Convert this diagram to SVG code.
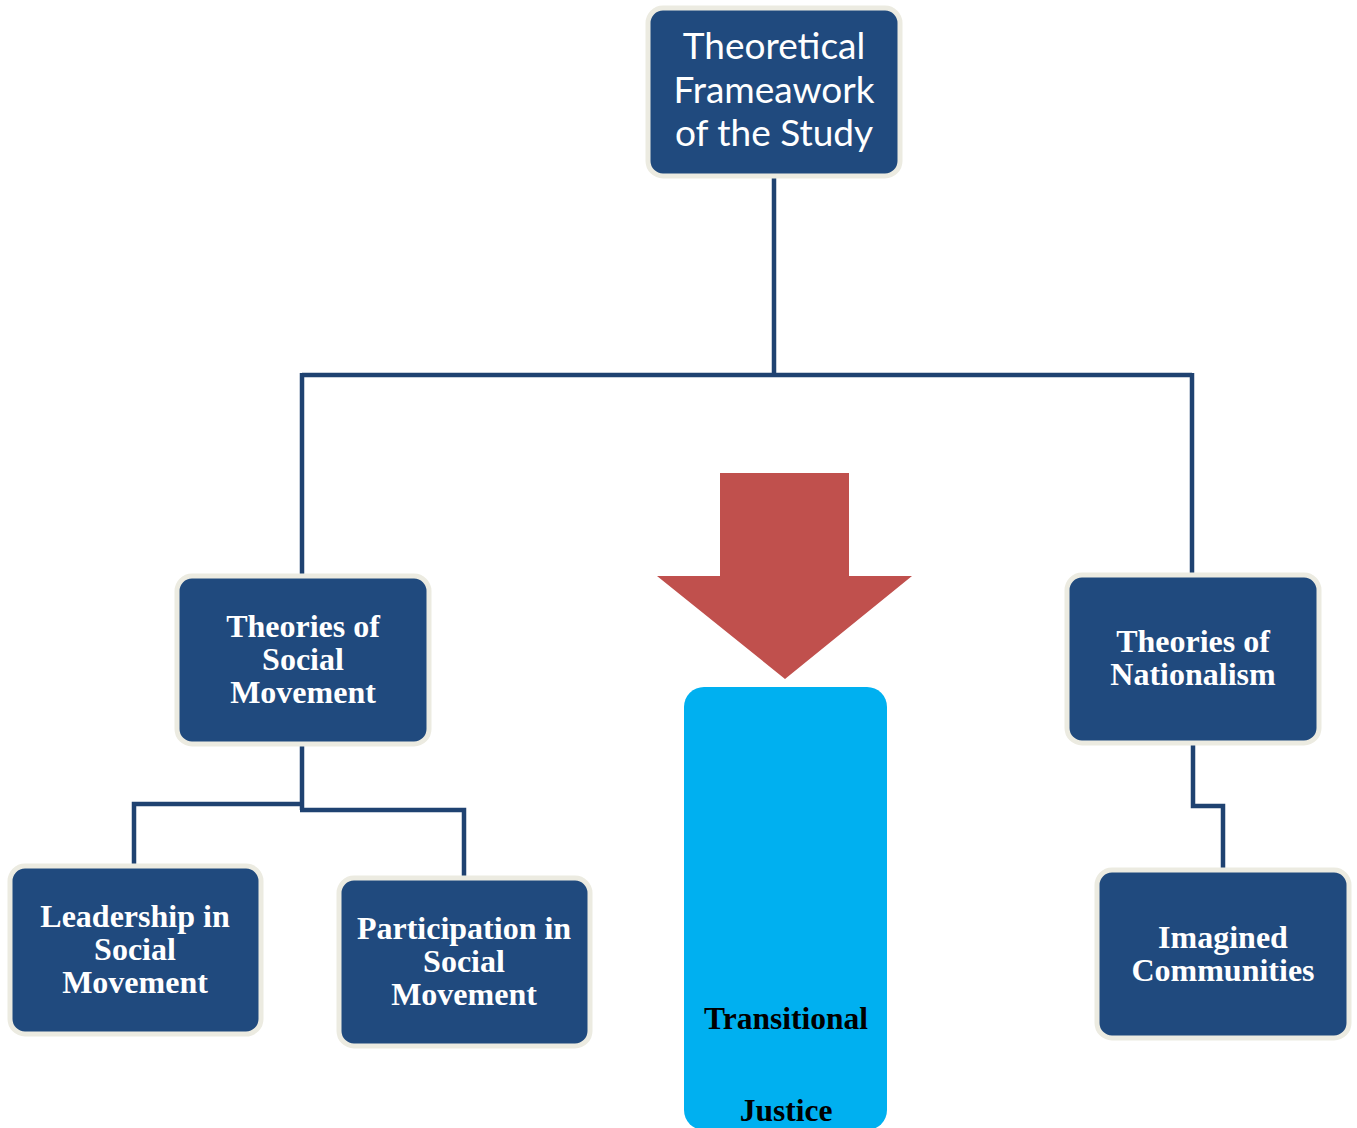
<svg xmlns="http://www.w3.org/2000/svg" width="1357" height="1128" viewBox="0 0 1357 1128">
<style>
.box{fill:#204A7E;stroke:#ECEBE1;stroke-width:5}
.conn{fill:none;stroke:#1F4271;stroke-width:4.5;stroke-linejoin:miter}
.t{font-family:"Liberation Serif","Times New Roman",serif;font-weight:bold;font-size:32px;fill:#FFFFFF;text-anchor:middle}
.top{font-family:Lato,"Open Sans",sans-serif;font-size:37px;fill:#FFFFFF;text-anchor:middle}
.tj{font-family:"Liberation Serif","Times New Roman",serif;font-weight:bold;font-size:31.5px;fill:#000000;text-anchor:middle}
</style>
<rect width="1357" height="1128" fill="#FFFFFF"/>
<g id="connectors">
<path class="conn" d="M774,177 V375 M302,375 H1192 M302,373 V576 M1192,373 V573"/>
<path class="conn" d="M302,745 V810 M304,804 H134 V864 M300,810 H464 V877"/>
<path class="conn" d="M1193,744 V806 H1223 V869"/>
</g>
<g id="node-top">
<rect class="box" x="648" y="8" width="252" height="168" rx="15"/>
<text class="top" x="774" y="59">Theoretical</text>
<text class="top" x="774" y="103">Frameawork</text>
<text class="top" x="774" y="146">of the Study</text>
</g>
<g id="node-social">
<rect class="box" x="177" y="576" width="252" height="168" rx="15"/>
<text class="t" x="303" y="637">Theories of</text>
<text class="t" x="303" y="670">Social</text>
<text class="t" x="303" y="703">Movement</text>
</g>
<g id="node-leadership">
<rect class="box" x="10" y="866" width="251" height="168" rx="15"/>
<text class="t" x="135" y="927">Leadership in</text>
<text class="t" x="135" y="960">Social</text>
<text class="t" x="135" y="993">Movement</text>
</g>
<g id="node-participation">
<rect class="box" x="339" y="878" width="251" height="168" rx="15"/>
<text class="t" x="464" y="939">Participation in</text>
<text class="t" x="464" y="972">Social</text>
<text class="t" x="464" y="1005">Movement</text>
</g>
<g id="node-nationalism">
<rect class="box" x="1067" y="575" width="252" height="168" rx="15"/>
<text class="t" x="1193" y="652">Theories of</text>
<text class="t" x="1193" y="685">Nationalism</text>
</g>
<g id="node-imagined">
<rect class="box" x="1097" y="870" width="252" height="168" rx="15"/>
<text class="t" x="1223" y="948">Imagined</text>
<text class="t" x="1223" y="981">Communities</text>
</g>
<g id="arrow">
<polygon points="720,473 849,473 849,576 912,576 785,679 657,576 720,576" fill="#C0504D"/>
</g>
<g id="node-tj">
<rect x="684" y="687" width="203" height="443" rx="20" fill="#00B0F0"/>
<text class="tj" x="786" y="1029">Transitional</text>
<text class="tj" x="786" y="1121">Justice</text>
</g>
</svg>
